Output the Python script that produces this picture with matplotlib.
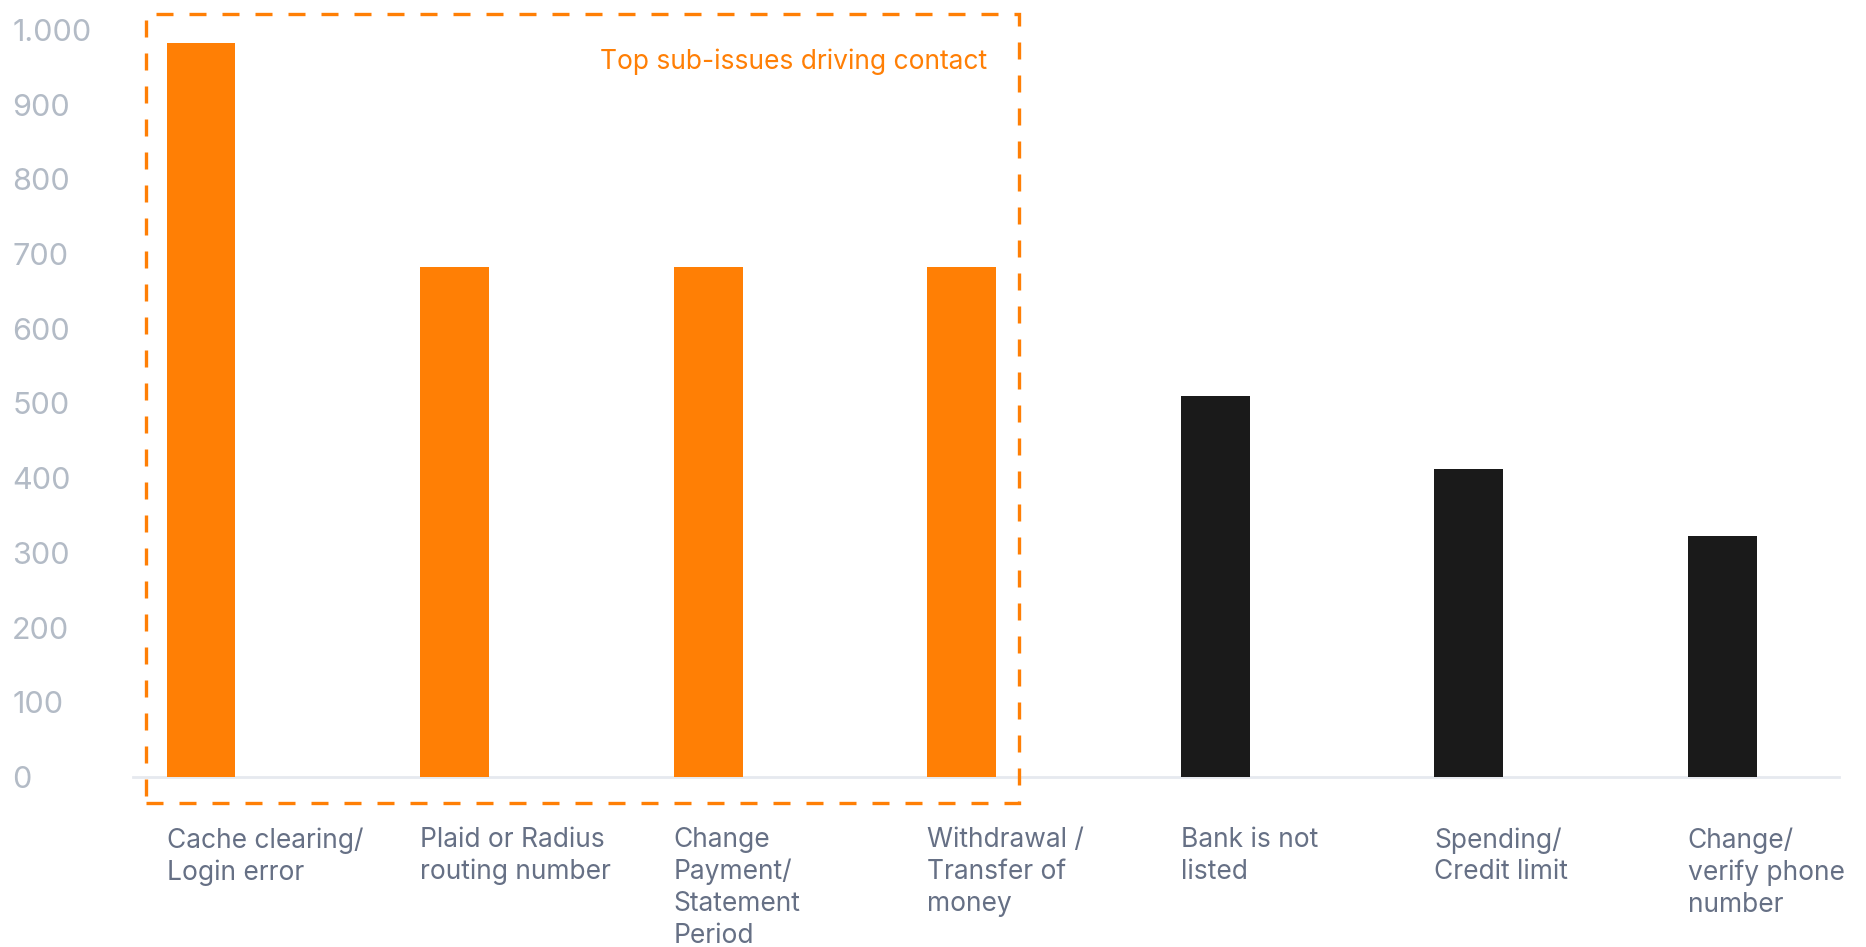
import matplotlib
matplotlib.use("Agg")
import matplotlib.pyplot as plt
from matplotlib.patches import Rectangle

# data
categories = [
    "Cache clearing/\nLogin error",
    "Plaid or Radius\nrouting number",
    "Change\nPayment/\nStatement\nPeriod",
    "Withdrawal /\nTransfer of\nmoney",
    "Bank is not\nlisted",
    "Spending/\nCredit limit",
    "Change/\nverify phone\nnumber",
]
values = [983, 683, 683, 683, 510, 412, 323]
highlighted = [True, True, True, True, False, False, False]
y_ticks = [0, 100, 200, 300, 400, 500, 600, 700, 800, 900, 1000]
y_tick_labels = ["0", "100", "200", "300", "400", "500", "600", "700", "800", "900", "1.000"]
note = "Top sub-issues driving contact"

ORANGE = "#FF7F05"
DARK = "#1A1A1A"
plt.rcParams["font.family"] = ["Inter", "DejaVu Sans"]

fig = plt.figure(figsize=(18.66, 9.47), dpi=100)
ax = fig.add_axes([0.0713, 0.1795, 0.9142, 0.789])

bar_w = 0.272
x = list(range(len(categories)))
colors = [ORANGE if h else DARK for h in highlighted]
ax.bar(x, values, width=bar_w, color=colors, zorder=3)

ax.set_xlim(-0.268, 6.46)
ax.set_ylim(0, 1000)

for s in ["top", "right", "left"]:
    ax.spines[s].set_visible(False)
ax.spines["bottom"].set_color("#E6E9EF")
ax.spines["bottom"].set_linewidth(2.0)

ax.set_yticks(y_ticks)
ax.set_yticklabels(y_tick_labels, fontsize=22, color="#B3BBC6", ha="left")
ax.tick_params(axis="y", length=0, pad=87)
ax.set_xticks([])

# category labels, left aligned to each bar
for i, lab in enumerate(categories):
    ax.annotate(lab, xy=(i - bar_w / 2, 0), xytext=(0, -36), textcoords="offset points",
                ha="left", va="top", fontsize=19, color="#667085", linespacing=1.29,
                annotation_clip=False)

# dashed highlight box around the top four
box = Rectangle((-0.216, -35), 3.441, 1056, fill=False, edgecolor=ORANGE,
                linewidth=2.4, linestyle=(0, (5.1, 4.8)), clip_on=False, zorder=4)
ax.add_patch(box)
ax.text(3.10, 957, note, ha="right", va="center", fontsize=19, color=ORANGE)

fig.savefig("out.png", dpi=100)
